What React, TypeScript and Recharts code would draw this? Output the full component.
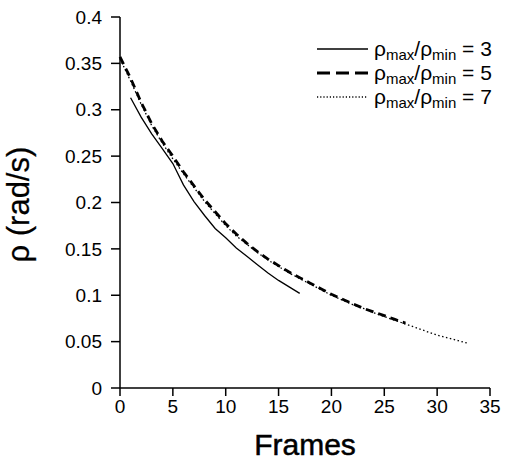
import { LineChart, Line, XAxis, YAxis } from "recharts";

// frame numbers and angular speed for each max/min ratio
const frames3 = [1, 2, 3, 4, 5, 6, 7, 8, 9, 10, 11, 12, 13, 14, 15, 16, 17];
const rho3 = [
  0.313, 0.292, 0.274, 0.258, 0.242, 0.219, 0.201, 0.186, 0.172, 0.162,
  0.151, 0.142, 0.133, 0.124, 0.116, 0.109, 0.102,
];

const frames5 = [
  0, 1, 2, 3, 4, 5, 6, 7, 8, 9, 10, 11, 12, 13, 14, 15, 16, 17, 18, 19, 20,
  21, 22, 23, 24, 25, 26, 27,
];
const rho5 = [
  0.357, 0.334, 0.308, 0.285, 0.266, 0.25, 0.233, 0.218, 0.203, 0.19, 0.177,
  0.166, 0.156, 0.147, 0.139, 0.132, 0.125, 0.119, 0.113, 0.107, 0.101,
  0.096, 0.091, 0.086, 0.082, 0.078, 0.074, 0.07,
];

const frames7 = [
  0, 1, 2, 3, 4, 5, 6, 7, 8, 9, 10, 11, 12, 13, 14, 15, 16, 17, 18, 19, 20,
  21, 22, 23, 24, 25, 26, 27, 28, 29, 30, 31, 32, 33,
];
const rho7 = [
  0.355, 0.331, 0.306, 0.283, 0.264, 0.247, 0.231, 0.216, 0.201, 0.188,
  0.175, 0.164, 0.155, 0.146, 0.138, 0.131, 0.124, 0.118, 0.112, 0.106,
  0.1, 0.095, 0.09, 0.086, 0.081, 0.077, 0.073, 0.069, 0.065, 0.061, 0.057,
  0.054, 0.051, 0.048,
];

const xTicks = [0, 5, 10, 15, 20, 25, 30, 35];
const yTicks = [0, 0.05, 0.1, 0.15, 0.2, 0.25, 0.3, 0.35, 0.4];
const ratios = [3, 5, 7];

const toRows = (fr: number[], v: number[]) =>
  fr.map((f, i) => ({ frame: f, rho: v[i] }));

const series = [
  { data: toRows(frames3, rho3), dash: undefined, keyDash: undefined, width: 1.3 },
  { data: toRows(frames5, rho5), dash: "8 5", keyDash: "13 6", width: 2.8 },
  { data: toRows(frames7, rho7), dash: "1.5 2.5", keyDash: "1.2 2", width: 1.3 },
];

const font = "'Liberation Sans', Arial, sans-serif";
const subStyle = { fontSize: 15, verticalAlign: "-4px", lineHeight: 0 };

function LegendBox() {
  return (
    <div
      style={{
        position: "absolute",
        left: 317,
        top: 37,
        fontFamily: font,
        fontSize: 21,
        lineHeight: "18px",
        color: "#000",
        whiteSpace: "nowrap",
      }}
    >
      {ratios.map((r, i) => (
        <div
          key={r}
          style={{ display: "flex", alignItems: "center", height: 24 }}
        >
          <svg width={52} height={10} style={{ marginRight: 5 }}>
            <line
              x1={0}
              x2={51}
              y1={5}
              y2={5}
              stroke="#000"
              strokeWidth={series[i].width}
              strokeDasharray={series[i].keyDash}
            />
          </svg>
          <span>
            ρ<sub style={subStyle}>max</sub>/ρ<sub style={subStyle}>min</sub>{" "}
            = {r}
          </span>
        </div>
      ))}
    </div>
  );
}

export default function App() {
  return (
    <div
      style={{
        position: "absolute",
        left: 0,
        top: 0,
        width: 506,
        height: 460,
        background: "#fff",
      }}
    >
      <LineChart
        width={506}
        height={460}
        margin={{ top: 17, right: 16, bottom: 0, left: 40 }}
      >
        <XAxis
          type="number"
          dataKey="frame"
          domain={[0, 35]}
          ticks={xTicks}
          allowDuplicatedCategory={false}
          stroke="#000"
          strokeWidth={1.5}
          tickSize={8}
          tickMargin={4}
          tick={{ fill: "#000", fontSize: 19, fontFamily: font }}
          height={72}
          label={{
            value: "Frames",
            position: "insideBottom",
            offset: 5,
            fill: "#000",
            stroke: "#000",
            strokeWidth: 0.5,
            fontSize: 30,
            fontFamily: font,
          }}
        />
        <YAxis
          type="number"
          domain={[0, 0.4]}
          ticks={yTicks}
          stroke="#000"
          strokeWidth={1.5}
          tickSize={9}
          tickMargin={9}
          width={80}
          tick={{ fill: "#000", fontSize: 19, fontFamily: font }}
          label={{
            value: "ρ (rad/s)",
            angle: -90,
            position: "insideLeft",
            offset: -22,
            dy: 60,
            fill: "#000",
            stroke: "#000",
            strokeWidth: 0.25,
            fontSize: 31,
            fontFamily: font,
          }}
        />
        {series.map((s, i) => (
          <Line
            key={i}
            data={s.data}
            dataKey="rho"
            type="linear"
            stroke="#000"
            strokeWidth={s.width}
            strokeDasharray={s.dash}
            dot={false}
            isAnimationActive={false}
          />
        ))}
      </LineChart>
      <LegendBox />
    </div>
  );
}
